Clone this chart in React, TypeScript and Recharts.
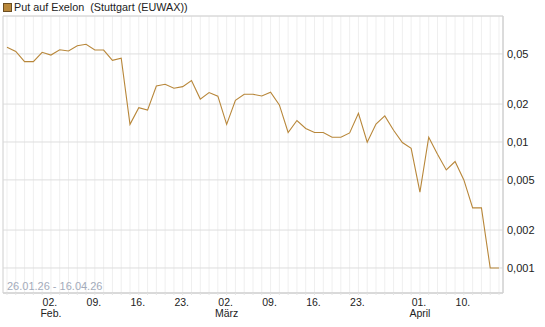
import { LineChart, Line, XAxis, YAxis, CartesianGrid, ReferenceArea } from "recharts";

// Handelstage (ohne Karfreitag / Ostermontag), ein Punkt pro Tag
const DATUM = [
  "26.01", "27.01", "28.01", "29.01", "30.01",
  "02.02", "03.02", "04.02", "05.02", "06.02",
  "09.02", "10.02", "11.02", "12.02", "13.02",
  "16.02", "17.02", "18.02", "19.02", "20.02",
  "23.02", "24.02", "25.02", "26.02", "27.02",
  "02.03", "03.03", "04.03", "05.03", "06.03",
  "09.03", "10.03", "11.03", "12.03", "13.03",
  "16.03", "17.03", "18.03", "19.03", "20.03",
  "23.03", "24.03", "25.03", "26.03", "27.03",
  "30.03", "31.03", "01.04", "02.04",
  "07.04", "08.04", "09.04", "10.04",
  "13.04", "14.04", "15.04", "16.04",
];

const KURS = [
  0.0564, 0.0523, 0.0434, 0.0434, 0.0515,
  0.049, 0.054, 0.0528, 0.0581, 0.0596,
  0.0537, 0.0537, 0.0445, 0.0462, 0.0138,
  0.0187, 0.0179, 0.0278, 0.0287, 0.0267,
  0.0275, 0.0307, 0.0219, 0.0247, 0.0231,
  0.0138, 0.0214, 0.0239, 0.0239, 0.0232,
  0.0248, 0.0197, 0.0119, 0.0148, 0.0128,
  0.0119, 0.0119, 0.0109, 0.0109, 0.0118,
  0.0169, 0.00995, 0.0139, 0.0161, 0.0124,
  0.0099, 0.0089, 0.004, 0.0109,
  0.008, 0.006, 0.007, 0.005,
  0.003, 0.003, 0.001, 0.001,
];

// Beschriftete Tage auf der X-Achse
const TICK_DATUM = ["02.02", "09.02", "16.02", "23.02", "02.03", "09.03", "16.03", "23.03", "01.04", "10.04"];
const TICK_TAG = ["02.", "09.", "16.", "23.", "02.", "09.", "16.", "23.", "01.", "10."];
const TICK_MONAT = ["Feb.", "", "", "", "März", "", "", "", "April", ""];

const Y_TICKS = [0.001, 0.002, 0.005, 0.01, 0.02, 0.05];

const FARBE = "#b8873a";
const SCHRIFT = '"Liberation Sans", Arial, sans-serif';

const daten = KURS.map((kurs, i) => ({ i, datum: DATUM[i], kurs }));
const xTicks = DATUM.map((_, i) => i);
const tickIndex = TICK_DATUM.map((d) => DATUM.indexOf(d));

const X_MIN = -0.455;
const X_MAX = DATUM.length - 1 + 0.455;
const Y_MIN = 0.000633;
const Y_MAX = 0.1;

function DatumTick(props: any) {
  const { x, y, payload } = props;
  const k = tickIndex.indexOf(payload.value);
  if (k < 0) return <g />;
  return (
    <g>
      <text x={x - 1} y={y + 9} textAnchor="middle" fontSize={10.5} fontFamily={SCHRIFT} fill="#222">
        {TICK_TAG[k]}
      </text>
      {TICK_MONAT[k] && (
        <text x={x} y={y + 20} textAnchor="middle" fontSize={10.5} fontFamily={SCHRIFT} fill="#222">
          {TICK_MONAT[k]}
        </text>
      )}
    </g>
  );
}

export default function App() {
  return (
    <div style={{ position: "absolute", left: 0, top: 0, width: 545, height: 327, fontFamily: SCHRIFT }}>
      <div style={{ position: "absolute", left: 3, top: 3, width: 7, height: 7, background: FARBE, border: "1px solid #6b4e22" }} />
      <div
        style={{
          position: "absolute",
          left: 14,
          top: 1,
          fontSize: 10.8,
          lineHeight: "13px",
          whiteSpace: "pre",
          color: "#222",
        }}
      >
        {"Put auf Exelon  (Stuttgart (EUWAX))"}
      </div>
      <LineChart width={545} height={327} data={daten} margin={{ top: 16, right: 2, bottom: 4, left: 3 }}>
        <CartesianGrid horizontal={false} stroke="#efefef" />
        <CartesianGrid vertical={false} stroke="#dedede" />
        <ReferenceArea
          x1={X_MIN}
          x2={X_MAX}
          y1={Y_MIN}
          y2={Y_MAX}
          fill="none"
          stroke="#d6d6d6"
          ifOverflow="visible"
        />
        <XAxis
          type="number"
          dataKey="i"
          domain={[X_MIN, X_MAX]}
          ticks={xTicks}
          interval={0}
          allowDataOverflow
          height={30}
          axisLine={{ stroke: "#d0d0d0" }}
          tickLine={{ stroke: "#e4e4e4" }}
          tickSize={2}
          tickMargin={2}
          tick={<DatumTick />}
        />
        <YAxis
          orientation="right"
          scale="log"
          domain={[Y_MIN, Y_MAX]}
          allowDataOverflow
          ticks={Y_TICKS}
          width={40}
          axisLine={{ stroke: "#d0d0d0" }}
          tickLine={false}
          tickSize={2}
          tickMargin={2}
          tick={{ fontSize: 11, fill: "#222", fontFamily: SCHRIFT, textAnchor: "start" }}
          tickFormatter={(v) => String(v).replace(".", ",")}
        />
        <Line
          type="linear"
          dataKey="kurs"
          stroke={FARBE}
          strokeWidth={1.1}
          dot={false}
          isAnimationActive={false}
        />
      </LineChart>
      <div
        style={{
          position: "absolute",
          left: 7,
          top: 281,
          fontSize: 11,
          lineHeight: "11px",
          color: "#a3abbb",
        }}
      >
        26.01.26 - 16.04.26
      </div>
    </div>
  );
}
